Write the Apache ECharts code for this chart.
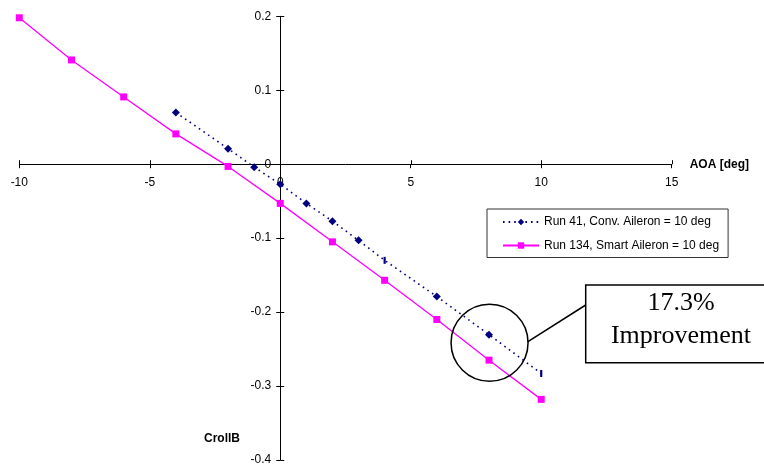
<!DOCTYPE html>
<html>
<head>
<meta charset="utf-8">
<script src="https://cdn.jsdelivr.net/npm/echarts@6/dist/echarts.min.js"></script>
<style>
  html, body { margin: 0; padding: 0; background: #fff; }
  #main { width: 764px; height: 464px; }
</style>
</head>
<body>
<div id="main"></div>
<script>
// 数据：横坐标 AOA [deg]，纵坐标 CrollB
var convAoa = [-4, -2, -1, 0, 1, 2, 3, 4, 6, 8, 10];
var convCroll = [0.070, 0.021, -0.004, -0.027, -0.053, -0.077, -0.103, -0.130, -0.179, -0.2305, -0.283];
var smartAoa = [-10, -8, -6, -4, -2, 0, 2, 4, 6, 8, 10];
var smartCroll = [0.198, 0.141, 0.091, 0.041, -0.003, -0.053, -0.105, -0.157, -0.210, -0.265, -0.318];
var seriesNames = ['Run 41, Conv. Aileron = 10 deg', 'Run 134, Smart Aileron = 10 deg'];
var xTicks = [-10, -5, 0, 5, 10, 15];
var yTicks = [0.2, 0.1, 0, -0.1, -0.2, -0.3, -0.4];
var calloutText = ['17.3%', 'Improvement'];

var FONT = '"Liberation Sans", Arial, sans-serif';
var GRID = { left: 19.3, right: 92.3, top: 16.3, bottom: 4 };

function pairs(xs, ys) {
    var out = [];
    xs.forEach(function (x, i) {
        out.push([x, ys[i]]);
    });
    return out;
}

var myChart = echarts.init(document.getElementById('main'));

var option = {
    animation: false,
    backgroundColor: '#fff',
    textStyle: { fontFamily: FONT },
    grid: {
        left: GRID.left,
        right: GRID.right,
        top: GRID.top,
        bottom: GRID.bottom,
        containLabel: false,
        outerBoundsMode: 'none'
    },
    legend: {
        orient: 'vertical',
        left: 487,
        top: 209,
        padding: [7, 9, 6, 15],
        itemWidth: 36,
        itemHeight: 8,
        itemGap: 11.5,
        borderColor: '#333',
        borderWidth: 1,
        backgroundColor: '#fff',
        textStyle: { fontFamily: FONT, fontSize: 12, color: '#000' },
        data: seriesNames
    },
    xAxis: {
        type: 'value',
        position: 'bottom',
        min: -10,
        max: 15,
        interval: 5,
        name: 'AOA [deg]',
        nameLocation: 'end',
        nameGap: 18,
        nameTextStyle: { fontFamily: FONT, fontSize: 12, fontWeight: 'bold', color: '#000' },
        axisLine: { onZero: false, lineStyle: { color: '#000', width: 1 } },
        axisTick: { show: true, length: 4, lineStyle: { color: '#000' } },
        axisLabel: { fontFamily: FONT, fontSize: 12, color: '#000', margin: 12 },
        splitLine: { show: false }
    },
    yAxis: {
        type: 'value',
        position: 'left',
        min: -0.4,
        max: 0.2,
        interval: 0.1,
        axisLine: { onZero: false, lineStyle: { color: '#000', width: 1 } },
        axisTick: { show: true, length: 4, lineStyle: { color: '#000' } },
        axisLabel: { fontFamily: FONT, fontSize: 12, color: '#000', margin: 9 },
        splitLine: { show: false }
    },
    series: [
        {
            name: seriesNames[0],
            type: 'line',
            data: pairs(convAoa, convCroll).map(function (p) {
                // 4 和 10 处原图的点是竖线形状
                if (p[0] === 4 || p[0] === 10) {
                    return { value: p, symbol: 'rect', symbolSize: [2.2, 7] };
                }
                return p;
            }),
            symbol: 'diamond',
            symbolSize: 8,
            showSymbol: true,
            itemStyle: { color: '#000080' },
            lineStyle: { color: '#000080', width: 1.6, type: [1.6, 4] },
            z: 3
        },
        {
            name: seriesNames[1],
            type: 'line',
            data: pairs(smartAoa, smartCroll),
            symbol: 'rect',
            symbolSize: 7,
            itemStyle: { color: '#FF00FF' },
            lineStyle: { color: '#FF00FF', width: 1.3 },
            z: 2
        }
    ]
};

myChart.setOption(option);

// 坐标轴穿过原点：用 offset 把轴（连同标签）移到 0 处
var origin = myChart.convertToPixel({ gridIndex: 0 }, [0, 0]);
myChart.setOption({
    xAxis: { offset: -(464 - GRID.bottom - origin[1]) },
    yAxis: { offset: -(origin[0] - GRID.left) }
});

// 十字刻度：补画轴线另一侧的那一半
var graphics = [];
xTicks.forEach(function (v) {
    var p = myChart.convertToPixel({ gridIndex: 0 }, [v, 0]);
    var x = Math.round(p[0]) + 0.5;
    graphics.push({
        type: 'line',
        shape: { x1: x, y1: origin[1] - 4, x2: x, y2: origin[1] },
        style: { stroke: '#000', lineWidth: 1 },
        silent: true
    });
});
yTicks.forEach(function (v) {
    var p = myChart.convertToPixel({ gridIndex: 0 }, [0, v]);
    var y = Math.round(p[1]) + 0.5;
    graphics.push({
        type: 'line',
        shape: { x1: origin[0], y1: y, x2: origin[0] + 4, y2: y },
        style: { stroke: '#000', lineWidth: 1 },
        silent: true
    });
});

// 标注：圆圈 + 连线 + 文本框
var c = myChart.convertToPixel({ gridIndex: 0 }, [8.02, -0.2415]);
var r = 38.5;
graphics.push(
    {
        type: 'circle',
        shape: { cx: c[0], cy: c[1], r: r },
        style: { fill: 'none', stroke: '#000', lineWidth: 1.5 },
        z: 10
    },
    {
        type: 'line',
        shape: { x1: c[0] + r - 0.5, y1: c[1] - 1, x2: 585.7, y2: 305 },
        style: { stroke: '#000', lineWidth: 1.5 },
        z: 10
    },
    {
        type: 'rect',
        shape: { x: 585.7, y: 285, width: 190, height: 77.7 },
        style: { fill: '#fff', stroke: '#000', lineWidth: 1.5 },
        z: 10
    },
    {
        type: 'text',
        x: 681,
        y: 303.5,
        style: {
            text: calloutText[0],
            font: '26px "Liberation Serif", "Times New Roman", serif',
            fill: '#000',
            align: 'center',
            verticalAlign: 'middle'
        },
        z: 11
    },
    {
        type: 'text',
        x: 681,
        y: 336,
        style: {
            text: calloutText[1],
            font: '26px "Liberation Serif", "Times New Roman", serif',
            fill: '#000',
            align: 'center',
            verticalAlign: 'middle'
        },
        z: 11
    },
    {
        type: 'text',
        x: 204,
        y: 439,
        style: {
            text: 'CrollB',
            font: 'bold 12px ' + FONT,
            fill: '#000',
            align: 'left',
            verticalAlign: 'middle'
        },
        z: 11
    }
);

myChart.setOption({ graphic: graphics });
</script>
</body>
</html>
